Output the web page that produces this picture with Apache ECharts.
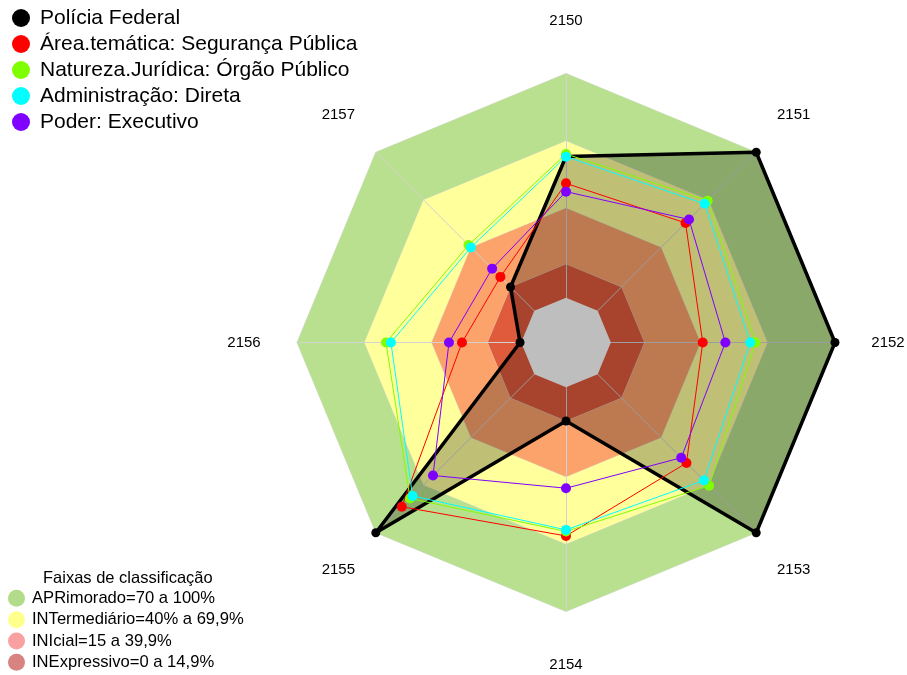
<!DOCTYPE html>
<html><head><meta charset="utf-8">
<script src="https://cdn.jsdelivr.net/npm/echarts@6/dist/echarts.min.js"></script>
<style>html,body{margin:0;padding:0;background:#fff}#c{width:907px;height:675px}</style>
</head><body><div id="c"></div>
<script>
// ---- data (axes in clockwise order starting at top) ----
const axes = ['2150', '2151', '2152', '2153', '2154', '2155', '2156', '2157'];
const seriesNames = ['Polícia Federal', 'Área.temática: Segurança Pública', 'Natureza.Jurídica: Órgão Público', 'Administração: Direta', 'Poder: Executivo'];
const policiaFederal = [63, 100, 100, 100, 15, 100, 0.5, 15];
const areaTematica   = [51, 55.4, 41, 56, 66.3, 83.6, 26.4, 21.4];
const naturezaJur    = [64.1, 69.4, 64.5, 70.3, 64.3, 78.4, 60.3, 41.5];
const administracao  = [62.9, 67.5, 62.2, 67, 63.6, 76.8, 58.1, 40];
const poder          = [47.3, 57.6, 51.1, 52.7, 45, 63.9, 32.2, 26.6];
const bandNames = ['APRimorado=70 a 100%', 'INTermediário=40% a 69,9%', 'INIcial=15 a 39,9%', 'INExpressivo=0 a 14,9%'];
const bandMax = [100, 69.9, 39.9, 14.9];
const centreValue = 0;
const axisMin = -20, axisMax = 100;

// ---- styling ----
const FONT = 'Liberation Sans, Arial, sans-serif';
const lineColors = ['#000000', '#ff0000', '#80ff00', '#00ffff', '#8000ff'];
const bandColors = ['#b8e08e', '#ffff9c', '#fca36b', '#e05a3c'];
const bandLegendColors = ['#b3dc8a', '#ffff8c', '#f9a0a0', '#d98282'];

// ECharts places indicators counter-clockwise; reorder so the picture runs clockwise
const order = [0, 7, 6, 5, 4, 3, 2, 1];
const re = a => order.map(i => a[i]);

const series = [];
bandMax.forEach((v, i) => {
  series.push({
    type: 'radar', name: bandNames[i], z: 1 + i * 0.1, silent: true, symbol: 'none',
    lineStyle: { color: '#d6d6d6', width: 1, opacity: 0.8 },
    areaStyle: { color: bandColors[i], opacity: 1 },
    itemStyle: { color: bandColors[i] },
    data: [{ value: axes.map(() => v), name: bandNames[i] }]
  });
});
// black filled area
series.push({
  type: 'radar', name: seriesNames[0], z: 2, silent: true, symbol: 'none',
  lineStyle: { width: 0, opacity: 0 },
  areaStyle: { color: '#000', opacity: 0.25 },
  itemStyle: { color: '#000' },
  data: [{ value: re(policiaFederal), name: seriesNames[0] }]
});
// gray centre
series.push({
  type: 'radar', name: 'centro', z: 3, silent: true, symbol: 'none',
  lineStyle: { width: 0, opacity: 0 },
  areaStyle: { color: '#bebebe', opacity: 1 },
  itemStyle: { color: '#bebebe' },
  data: [{ value: axes.map(() => centreValue), name: 'centro' }]
});
const lineData = [policiaFederal, areaTematica, naturezaJur, administracao, poder];
lineData.forEach((arr, i) => {
  series.push({
    type: 'radar', name: seriesNames[i], z: 3.5 + i * 0.1, symbol: 'circle',
    symbolSize: i === 0 ? 9 : 10,
    lineStyle: { color: lineColors[i], width: i === 0 ? 3.5 : 1 },
    itemStyle: { color: lineColors[i] },
    data: [{ value: re(arr), name: seriesNames[i] }]
  });
});

const chart = echarts.init(document.getElementById('c'), null, { renderer: 'canvas' });
chart.setOption({
  animation: false,
  backgroundColor: '#fff',
  title: {
    text: 'Faixas de classificação', left: 38, top: 563,
    textStyle: { fontFamily: FONT, fontSize: 16.5, fontWeight: 'normal', color: '#000', lineHeight: 20 }
  },
  legend: [{
    data: seriesNames, orient: 'vertical', left: 12, top: 5, padding: 0, itemGap: 0,
    icon: 'circle', itemWidth: 28, itemHeight: 18,
    textStyle: { fontFamily: FONT, fontSize: 21, color: '#000', lineHeight: 26 }
  }, {
    data: bandNames.map((n, i) => ({ name: n, itemStyle: { color: bandLegendColors[i] } })),
    orient: 'vertical', left: 8, top: 587.7, padding: 0, itemGap: 0,
    icon: 'circle', itemWidth: 21, itemHeight: 17,
    textStyle: { fontFamily: FONT, fontSize: 16.6, color: '#000', lineHeight: 21.3 }
  }],
  radar: {
    center: [566, 342.5], radius: 269, startAngle: 90, shape: 'polygon', splitNumber: 1, z: 1.5,
    indicator: re(axes).map(n => ({ name: n, min: axisMin, max: axisMax })),
    nameGap: 53,
    axisName: { color: '#000', fontSize: 15, fontFamily: FONT, align: 'center', verticalAlign: 'middle' },
    axisLine: { lineStyle: { color: '#d2d2d2', width: 1 } },
    splitLine: { show: false }, splitArea: { show: false },
    axisTick: { show: false }, axisLabel: { show: false }
  },
  series: series
});
</script></body></html>
